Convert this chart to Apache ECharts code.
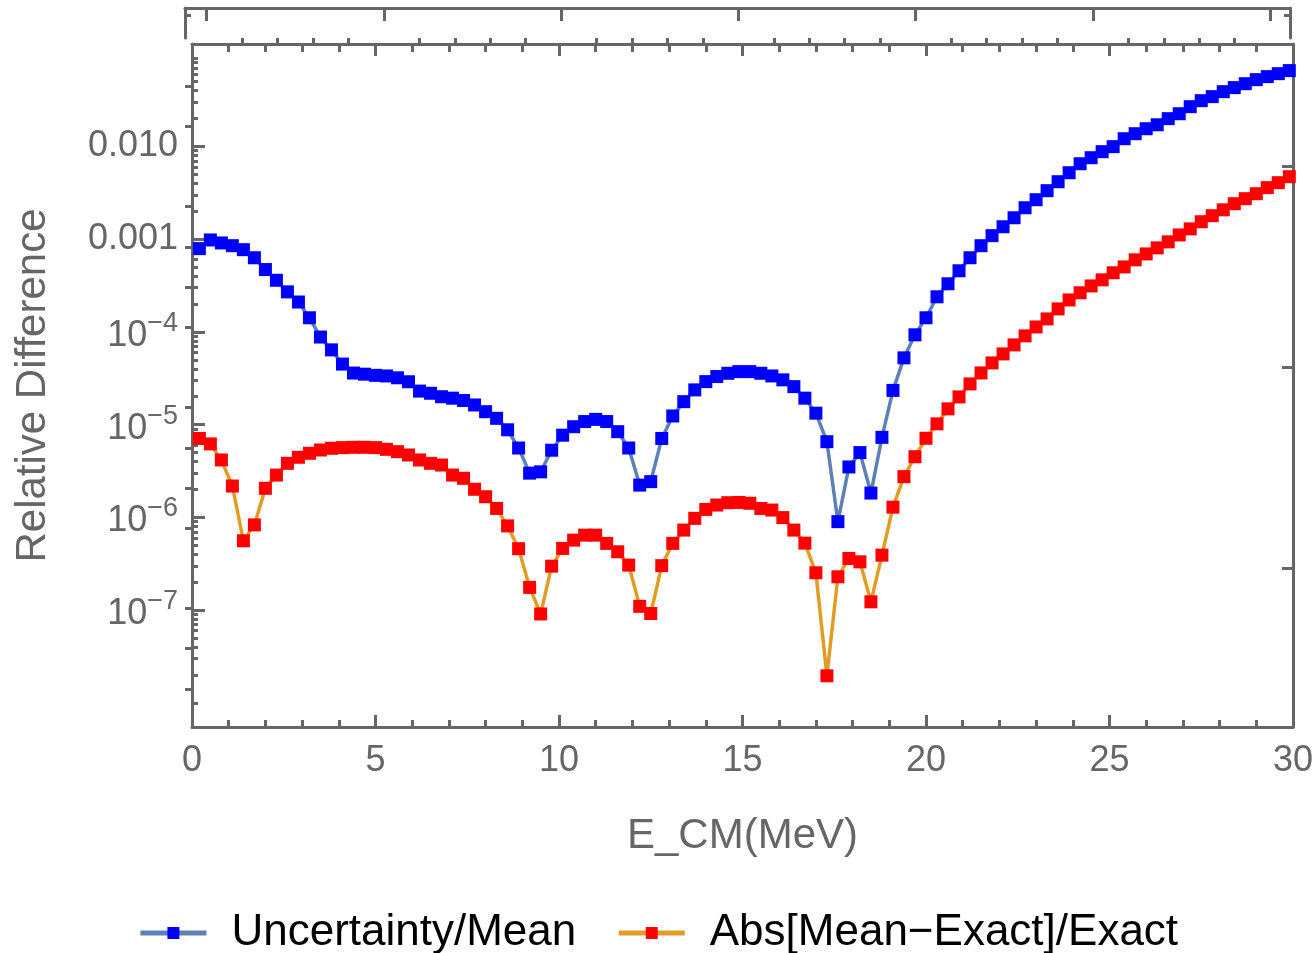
<!DOCTYPE html>
<html>
<head>
<meta charset="utf-8">
<title>Relative Difference</title>
<script src="https://cdn.jsdelivr.net/npm/echarts@6/dist/echarts.min.js"></script>
<style>
  html, body { margin: 0; padding: 0; background: #fff; }
  #chart { width: 1316px; height: 953px; }
</style>
</head>
<body>
<div id="chart"></div>
<script>
// E_CM sample points (MeV)
var energy = [0.2,0.5,0.8,1.1,1.4,1.7,2.0,2.3,2.6,2.9,3.2,3.5,3.8,4.1,4.4,4.7,5.0,5.3,5.6,5.9,
  6.2,6.5,6.8,7.1,7.4,7.7,8.0,8.3,8.6,8.9,9.2,9.5,9.8,10.1,10.4,10.7,11.0,11.3,11.6,11.9,
  12.2,12.5,12.8,13.1,13.4,13.7,14.0,14.3,14.6,14.9,15.2,15.5,15.8,16.1,16.4,16.7,17.0,17.3,17.6,17.9,
  18.2,18.5,18.8,19.1,19.4,19.7,20.0,20.3,20.6,20.9,21.2,21.5,21.8,22.1,22.4,22.7,23.0,23.3,23.6,23.9,
  24.2,24.5,24.8,25.1,25.4,25.7,26.0,26.3,26.6,26.9,27.2,27.5,27.8,28.1,28.4,28.7,29.0,29.3,29.6,29.9];

// Uncertainty/Mean
var uncertainty = [7.9e-4,9.8e-4,9.1e-4,8.5e-4,7.7e-4,6.3e-4,4.7e-4,3.6e-4,2.7e-4,2.1e-4,
  1.42e-4,8.8e-5,6.4e-5,4.5e-5,3.6e-5,3.5e-5,3.4e-5,3.35e-5,3.2e-5,2.9e-5,
  2.3e-5,2.18e-5,2.0e-5,1.93e-5,1.82e-5,1.63e-5,1.38e-5,1.17e-5,8.8e-6,5.6e-6,
  3.0e-6,3.1e-6,5.3e-6,7.7e-6,9.5e-6,1.08e-5,1.14e-5,1.08e-5,8.4e-6,5.6e-6,
  2.23e-6,2.43e-6,7.1e-6,1.24e-5,1.77e-5,2.37e-5,2.91e-5,3.3e-5,3.58e-5,3.73e-5,
  3.73e-5,3.58e-5,3.35e-5,3.04e-5,2.57e-5,1.93e-5,1.33e-5,6.55e-6,9.0e-7,3.5e-6,
  5.0e-6,1.83e-6,7.3e-6,2.34e-5,5.25e-5,9.3e-5,1.42e-4,2.39e-4,3.3e-4,4.56e-4,
  6.3e-4,8.5e-4,1.09e-3,1.36e-3,1.70e-3,2.18e-3,2.66e-3,3.33e-3,4.16e-3,5.2e-3,
  6.5e-3,7.55e-3,8.77e-3,9.93e-3,1.21e-2,1.37e-2,1.55e-2,1.71e-2,1.99e-2,2.25e-2,
  2.68e-2,3.11e-2,3.44e-2,3.89e-2,4.3e-2,4.74e-2,5.24e-2,5.65e-2,6.08e-2,6.56e-2];

// Abs[Mean-Exact]/Exact
var absError = [7.1e-6,6.2e-6,4.16e-6,2.18e-6,5.6e-7,8.3e-7,2.06e-6,2.86e-6,3.83e-6,4.45e-6,
  4.91e-6,5.33e-6,5.56e-6,5.65e-6,5.7e-6,5.7e-6,5.65e-6,5.42e-6,5.11e-6,4.71e-6,
  4.16e-6,3.83e-6,3.67e-6,2.86e-6,2.64e-6,2.01e-6,1.67e-6,1.25e-6,8.1e-7,4.6e-7,
  1.76e-7,9.1e-8,2.98e-7,4.63e-7,5.69e-7,6.44e-7,6.44e-7,5.25e-7,4.26e-7,3.06e-7,
  1.1e-7,9.2e-8,3.02e-7,5.25e-7,7.3e-7,9.77e-7,1.22e-6,1.36e-6,1.44e-6,1.45e-6,
  1.42e-6,1.25e-6,1.2e-6,9.95e-7,7.3e-7,5.28e-7,2.53e-7,1.96e-8,2.29e-7,3.61e-7,
  3.32e-7,1.23e-7,3.92e-7,1.29e-6,2.75e-6,4.51e-6,7.13e-6,1.02e-5,1.48e-5,1.99e-5,
  2.75e-5,3.61e-5,4.63e-5,5.79e-5,7.24e-5,9.06e-5,1.13e-4,1.38e-4,1.77e-4,2.21e-4,
  2.64e-4,3.13e-4,3.64e-4,4.34e-4,5.02e-4,5.98e-4,6.93e-4,8.05e-4,9.35e-4,1.11e-3,
  1.29e-3,1.54e-3,1.79e-3,2.07e-3,2.41e-3,2.73e-3,3.09e-3,3.59e-3,4.06e-3,4.71e-3];

var xTickLabels = ['0', '5', '10', '15', '20', '25', '30'];
var yTickValues = [1e-2, 1e-3, 1e-4, 1e-5, 1e-6, 1e-7];
var yTickLabels = ['0.010', '0.001', '10^\u22124', '10^\u22125', '10^\u22126', '10^\u22127'];
var yMinorDecades = [1e-2, 1e-3, 1e-4, 1e-5, 1e-6, 1e-7, 1e-8];
var yMinorSteps = [2, 3, 4, 5, 6, 7, 8, 9];
// right frame and the stray box above use their own plain ticks
var rightMajorTicks = [3.95, 8.95, 13.95];
var rightMinorTicks = [0.95, 1.95, 2.95, 4.95, 5.95, 6.95, 7.95, 9.95, 10.95, 11.95, 12.95, 14.95, 15.95];
var boxMajorTicks = [0, 5, 10, 15, 20, 25, 30];
var boxMinorTicks = [1, 2, 3, 4, 6, 7, 8, 9, 11, 12, 13, 14, 16, 17, 18, 19, 21, 22, 23, 24, 26, 27, 28, 29];

var yMinorTicks = [1e-8];
yMinorDecades.forEach(function (d) {
  yMinorSteps.forEach(function (s) { yMinorTicks.push(+(s * d).toPrecision(3)); });
});

var AX = '#666666';
var FONT = '"Liberation Sans", Arial, sans-serif';

function yLabel(v) {
  var best = 0;
  for (var i = 1; i < yTickValues.length; i++) {
    if (Math.abs(Math.log10(yTickValues[i] / v)) < Math.abs(Math.log10(yTickValues[best] / v))) best = i;
  }
  var t = yTickLabels[best];
  if (t.indexOf('^') < 0) return t;
  var p = t.split('^');
  return '{b|' + p[0] + '}{s|' + p[1] + '}';
}

var line3 = { color: AX, width: 3 };
var noLabel = { show: false };
var noSplit = { show: false };

var chart = echarts.init(document.getElementById('chart'));
chart.setOption({
  animation: false,
  textStyle: { fontFamily: FONT },
  grid: [
    { left: 192, top: 44, width: 1102, height: 683 },
    { left: 185, top: 8, width: 1105, height: 30 }
  ],
  legend: {
    left: 'center',
    top: 906,
    itemWidth: 66,
    itemHeight: 15,
    itemGap: 40,
    lineStyle: { width: 5 },
    textStyle: { fontSize: 44, color: '#000', fontFamily: FONT, padding: [0, 0, 0, 20] },
    data: ['Uncertainty/Mean', 'Abs[Mean\u2212Exact]/Exact']
  },
  xAxis: [
    {
      gridIndex: 0, type: 'value', min: 0, max: 30, interval: 5, position: 'bottom',
      axisLine: { onZero: false, lineStyle: line3 },
      axisTick: { inside: true, length: 12, lineStyle: line3 },
      minorTick: { show: true, splitNumber: 5, length: 7, lineStyle: line3 },
      axisLabel: {
        fontSize: 36, color: AX, margin: 16, fontFamily: FONT,
        formatter: function (v) { return xTickLabels[Math.round(v / 5)]; }
      },
      splitLine: noSplit, minorSplitLine: noSplit,
      name: 'E_CM(MeV)', nameLocation: 'middle', nameGap: 88,
      nameTextStyle: { fontSize: 42, color: AX, fontFamily: FONT }
    },
    {
      gridIndex: 0, type: 'value', min: 0, max: 30, interval: 5, position: 'top',
      axisLine: { onZero: false, lineStyle: line3 },
      axisTick: { inside: true, length: 12, lineStyle: line3 },
      minorTick: { show: true, splitNumber: 5, length: 8, lineStyle: line3 },
      axisLabel: noLabel, splitLine: noSplit
    },
    {
      gridIndex: 1, type: 'value', min: -0.61, max: 30.56, position: 'top',
      axisLine: { onZero: false, lineStyle: line3 },
      axisTick: { inside: true, length: 13, lineStyle: line3, customValues: boxMajorTicks },
      axisLabel: noLabel, splitLine: noSplit
    },
    {
      gridIndex: 1, type: 'value', min: -0.61, max: 30.56, position: 'top',
      axisLine: { show: false },
      axisTick: { inside: true, length: 8, lineStyle: line3, customValues: boxMinorTicks },
      axisLabel: noLabel, splitLine: noSplit
    }
  ],
  yAxis: [
    {
      gridIndex: 0, type: 'log', min: 5.5e-9, max: 0.127, position: 'left',
      axisLine: { show: true, onZero: false, lineStyle: line3 },
      axisTick: { show: true, inside: true, length: 13, lineStyle: line3, customValues: yTickValues },
      axisLabel: {
        customValues: yTickValues, margin: 14, fontSize: 36, color: AX, fontFamily: FONT,
        formatter: yLabel,
        rich: {
          b: { fontSize: 36, color: AX, fontFamily: FONT, verticalAlign: 'bottom' },
          s: { fontSize: 27, color: AX, fontFamily: FONT, verticalAlign: 'bottom', padding: [0, 0, 17, 0] }
        }
      },
      splitLine: noSplit,
      name: 'Relative Difference', nameLocation: 'middle', nameGap: 138, nameRotate: 90,
      nameTextStyle: { fontSize: 42, color: AX, fontFamily: FONT }
    },
    {
      gridIndex: 0, type: 'log', min: 5.5e-9, max: 0.127, position: 'left',
      axisLine: { show: false },
      axisTick: { show: true, inside: true, length: 6, lineStyle: line3, customValues: yMinorTicks },
      axisLabel: noLabel, splitLine: noSplit
    },
    {
      gridIndex: 0, type: 'value', min: 0, max: 17, position: 'right',
      axisLine: { show: true, onZero: false, lineStyle: line3 },
      axisTick: { inside: true, length: 11, lineStyle: line3, customValues: rightMajorTicks },
      axisLabel: noLabel, splitLine: noSplit
    },
    {
      gridIndex: 0, type: 'value', min: 0, max: 17, position: 'right',
      axisLine: { show: false },
      axisTick: { inside: true, length: 7, lineStyle: line3, customValues: rightMinorTicks },
      axisLabel: noLabel, splitLine: noSplit
    },
    {
      gridIndex: 1, type: 'value', min: 0, max: 1, position: 'left',
      axisLine: { show: true, onZero: false, lineStyle: line3 },
      axisTick: { inside: true, length: 6, lineStyle: line3, customValues: [0.76] },
      axisLabel: noLabel, splitLine: noSplit
    },
    {
      gridIndex: 1, type: 'value', min: 0, max: 1, position: 'right',
      axisLine: { show: true, onZero: false, lineStyle: line3 },
      axisTick: { inside: true, length: 6, lineStyle: line3, customValues: [0.76] },
      axisLabel: noLabel, splitLine: noSplit
    }
  ],
  series: [
    {
      name: 'Uncertainty/Mean', type: 'line', xAxisIndex: 0, yAxisIndex: 0,
      data: energy.map(function (e, i) { return [e, uncertainty[i]]; }),
      symbol: 'rect', symbolSize: 13, showAllSymbol: true,
      itemStyle: { color: '#0000ff' },
      lineStyle: { color: '#5e81b5', width: 3.5 }
    },
    {
      name: 'Abs[Mean\u2212Exact]/Exact', type: 'line', xAxisIndex: 0, yAxisIndex: 0,
      data: energy.map(function (e, i) { return [e, absError[i]]; }),
      symbol: 'rect', symbolSize: 13, showAllSymbol: true,
      itemStyle: { color: '#ff0000' },
      lineStyle: { color: '#e19c24', width: 3.5 }
    }
  ]
});
</script>
</body>
</html>
